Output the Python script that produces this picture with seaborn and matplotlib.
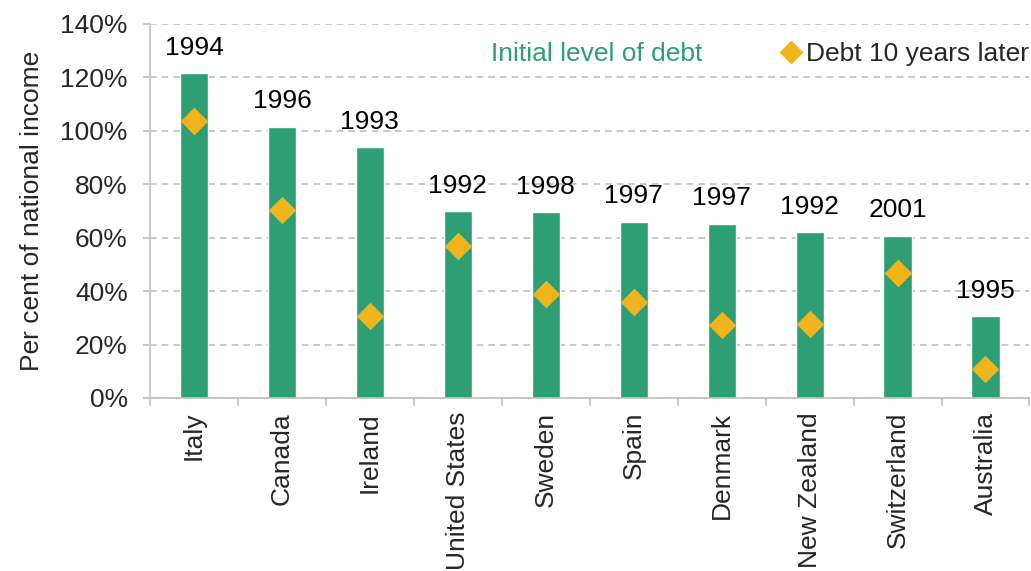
import matplotlib
matplotlib.use('Agg')
import matplotlib.pyplot as plt
import seaborn as sns
import pandas as pd
from matplotlib.lines import Line2D
from matplotlib.patches import Patch
from matplotlib.ticker import FuncFormatter, MultipleLocator, FixedLocator

# Datos
countries = ['Italy', 'Canada', 'Ireland', 'United States', 'Sweden', 'Spain',
             'Denmark', 'New Zealand', 'Switzerland', 'Australia']
initial_debt = [121.5, 101.5, 94.0, 70.0, 69.5, 66.0, 65.3, 62.1, 60.8, 30.7]
debt_later = [103.5, 70.3, 30.7, 57.0, 38.8, 36.1, 27.4, 27.7, 46.6, 11.0]
start_years = ['1994', '1996', '1993', '1992', '1998', '1997', '1997', '1992', '2001', '1995']

green = '#2E9E74'
gold = '#F0B41C'
grey = '#BFBFBF'

df = pd.DataFrame({'country': countries, 'initial': initial_debt, 'later': debt_later})

sns.set_style('white')
plt.rcParams['font.family'] = ['Liberation Sans', 'DejaVu Sans']

fs = 19

fig = plt.figure(figsize=(10.31, 5.71), dpi=100)
ax = fig.add_axes([0.1455, 0.303, 0.853, 0.655])

sns.barplot(data=df, x='country', y='initial', color=green, width=0.32,
            saturation=1, ax=ax, zorder=2)
sns.stripplot(data=df, x='country', y='later', color=gold, marker='D', size=14,
              jitter=False, linewidth=0, ax=ax, zorder=3)

# Años sobre las barras
for i, (val, yr) in enumerate(zip(initial_debt, start_years)):
    ax.text(i, val + 5, yr, ha='center', va='bottom', fontsize=fs, color='black')

ax.set_xlim(-0.5, len(countries) - 0.5)
ax.set_ylim(0, 140)
ax.yaxis.set_major_locator(MultipleLocator(20))
ax.yaxis.set_major_formatter(FuncFormatter(lambda v, p: f'{v:.0f}%'))
ax.grid(axis='y', color=grey, linestyle=(0, (4, 3)), linewidth=1.2, zorder=0)
ax.set_axisbelow(True)

for side in ['top', 'right']:
    ax.spines[side].set_visible(False)
for side in ['left', 'bottom']:
    ax.spines[side].set_color(grey)
    ax.spines[side].set_linewidth(1.2)

ax.tick_params(axis='y', labelsize=fs, length=5, color=grey, width=1.2, left=True, pad=11)
ax.tick_params(axis='x', labelsize=fs, length=0, rotation=90, pad=10)
ax.xaxis.set_minor_locator(FixedLocator([i + 0.5 for i in range(-1, len(countries))]))
ax.tick_params(axis='x', which='minor', length=6, color=grey, width=1.2, bottom=True)

ax.set_xlabel('')
ax.set_ylabel('Per cent of national income', fontsize=fs, labelpad=12)

handles = [Patch(facecolor='none', edgecolor='none'),
           Line2D([], [], marker='D', linestyle='', color=gold, markersize=11)]
leg = ax.legend(handles, ['Initial level of debt', 'Debt 10 years later'],
                ncol=2, loc='upper right', bbox_to_anchor=(1.026, 1.016),
                frameon=False, fontsize=fs, handlelength=0.7, handletextpad=0.2,
                columnspacing=3.0)
leg.get_texts()[0].set_color(green)

fig.savefig('out.png', dpi=100)
